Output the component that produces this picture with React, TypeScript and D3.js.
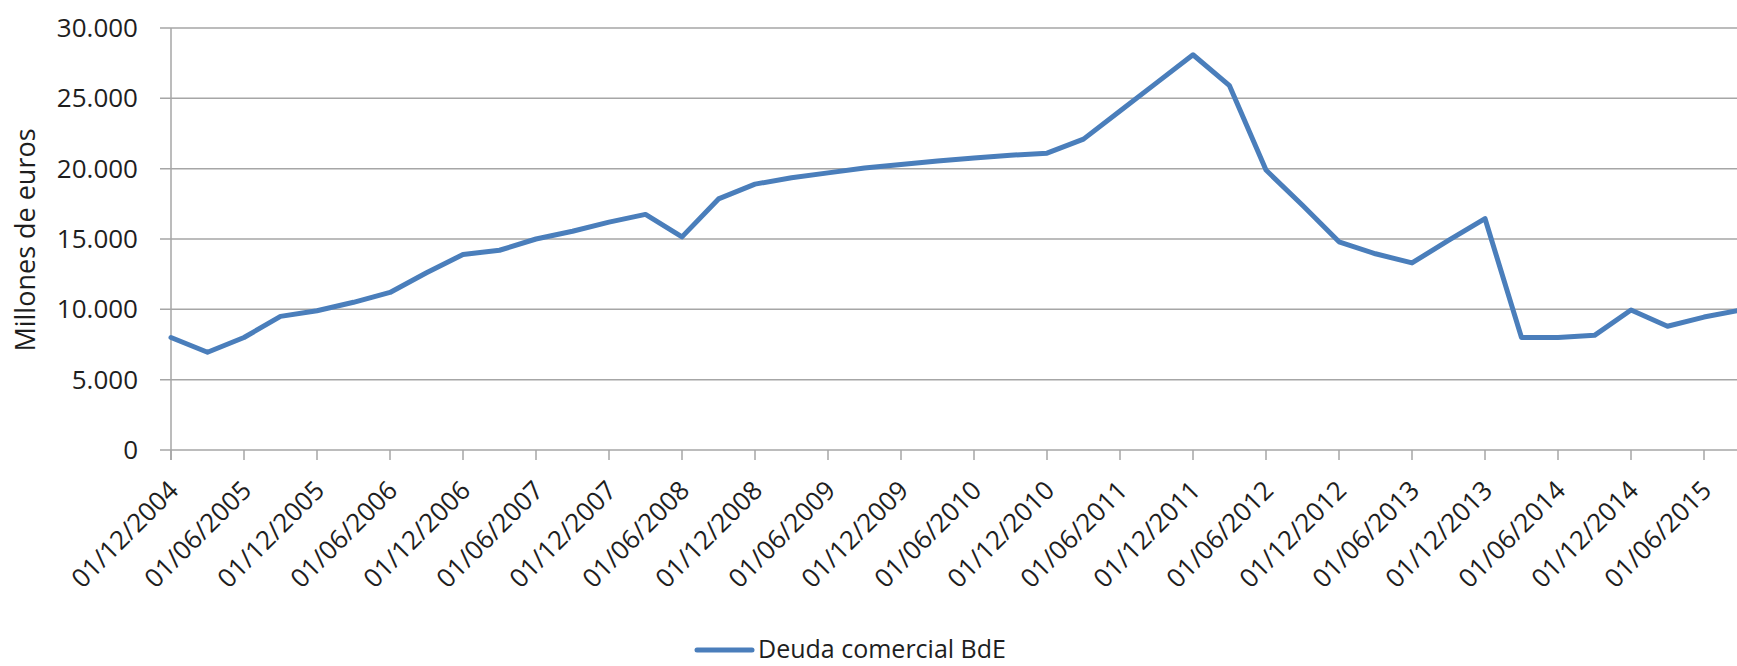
import React, { useEffect, useRef } from 'react';
import * as d3 from 'd3';

const fechas: string[] = [
  '01/12/2004', '01/03/2005', '01/06/2005', '01/09/2005',
  '01/12/2005', '01/03/2006', '01/06/2006', '01/09/2006',
  '01/12/2006', '01/03/2007', '01/06/2007', '01/09/2007',
  '01/12/2007', '01/03/2008', '01/06/2008', '01/09/2008',
  '01/12/2008', '01/03/2009', '01/06/2009', '01/09/2009',
  '01/12/2009', '01/03/2010', '01/06/2010', '01/09/2010',
  '01/12/2010', '01/03/2011', '01/06/2011', '01/09/2011',
  '01/12/2011', '01/03/2012', '01/06/2012', '01/09/2012',
  '01/12/2012', '01/03/2013', '01/06/2013', '01/09/2013',
  '01/12/2013', '01/03/2014', '01/06/2014', '01/09/2014',
  '01/12/2014', '01/03/2015', '01/06/2015', '01/09/2015',
];

const deudaComercial: number[] = [
  8000, 6950, 8000, 9500,
  9900, 10500, 11200, 12600,
  13900, 14200, 15000, 15550,
  16200, 16750, 15150, 17850,
  18900, 19350, 19700, 20050,
  20300, 20550, 20750, 20950,
  21100, 22100, 24100, 26100,
  28100, 25900, 19900, 17400,
  14800, 13950, 13300, 14900,
  16450, 8000, 8000, 8150,
  9950, 8800, 9450, 9950,
];

const yTicks: number[] = [0, 5000, 10000, 15000, 20000, 25000, 30000];
const serieNombre = 'Deuda comercial BdE';
const yTitulo = 'Millones de euros';

const WIDTH = 1737;
const HEIGHT = 666;
const LINE_COLOR = '#4a7ebb';
const GRID_COLOR = '#a6a6a6';
const TEXT_COLOR = '#1e1e1e';
const FONT = '"Open Sans", Lato, sans-serif';

const App: React.FC = () => {
  const svgRef = useRef<SVGSVGElement>(null);

  useEffect(() => {
    const svg = d3.select(svgRef.current);
    svg.selectAll('*').remove();

    const plot = { left: 171, top: 28, bottom: 450 };
    const step = 36.5;

    const x = d3.scalePoint<string>()
      .domain(fechas)
      .range([plot.left, plot.left + step * (fechas.length - 1)]);

    const y = d3.scaleLinear()
      .domain([0, 30000])
      .range([plot.bottom, plot.top]);

    // Horizontal grid lines
    svg.append('g')
      .selectAll('line')
      .data(yTicks)
      .enter()
      .append('line')
      .attr('x1', plot.left - 11)
      .attr('x2', WIDTH)
      .attr('y1', d => y(d))
      .attr('y2', d => y(d))
      .attr('stroke', GRID_COLOR)
      .attr('stroke-width', 1.5);

    // Y axis line
    svg.append('line')
      .attr('x1', plot.left)
      .attr('x2', plot.left)
      .attr('y1', y(30000))
      .attr('y2', plot.bottom + 10)
      .attr('stroke', GRID_COLOR)
      .attr('stroke-width', 1.5);

    // Y tick labels
    const fmt = (v: number) => (v === 0 ? '0' : d3.format(',')(v).replace(/,/g, '.'));
    svg.append('g')
      .selectAll('text')
      .data(yTicks)
      .enter()
      .append('text')
      .attr('x', 138)
      .attr('y', d => y(d))
      .attr('dy', '0.35em')
      .attr('text-anchor', 'end')
      .attr('font-family', FONT)
      .attr('font-size', 26)
      .attr('fill', TEXT_COLOR)
      .text(d => fmt(d));

    // Y axis title
    svg.append('text')
      .attr('transform', `translate(35,240) rotate(-90)`)
      .attr('text-anchor', 'middle')
      .attr('font-family', FONT)
      .attr('font-size', 27)
      .attr('fill', TEXT_COLOR)
      .text(yTitulo);

    // X tick marks + labels every two quarters
    const labelled = fechas.filter((_, i) => i % 2 === 0);
    svg.append('g')
      .selectAll('line')
      .data(labelled)
      .enter()
      .append('line')
      .attr('x1', d => x(d) || 0)
      .attr('x2', d => x(d) || 0)
      .attr('y1', plot.bottom)
      .attr('y2', plot.bottom + 10)
      .attr('stroke', GRID_COLOR)
      .attr('stroke-width', 1.5);

    svg.append('g')
      .selectAll('text')
      .data(labelled)
      .enter()
      .append('text')
      .attr('transform', d => `translate(${(x(d) || 0) + 9},${plot.bottom + 42}) rotate(-45)`)
      .attr('text-anchor', 'end')
      .attr('font-family', FONT)
      .attr('font-size', 26)
      .attr('fill', TEXT_COLOR)
      .text(d => d);

    // Series line
    const line = d3.line<number>()
      .x((_, i) => x(fechas[i]) || 0)
      .y(d => y(d));

    svg.append('path')
      .datum(deudaComercial)
      .attr('d', line)
      .attr('fill', 'none')
      .attr('stroke', LINE_COLOR)
      .attr('stroke-width', 5)
      .attr('stroke-linejoin', 'round')
      .attr('stroke-linecap', 'round');

    // Legend
    svg.append('line')
      .attr('x1', 697)
      .attr('x2', 752)
      .attr('y1', 650)
      .attr('y2', 650)
      .attr('stroke', LINE_COLOR)
      .attr('stroke-width', 5)
      .attr('stroke-linecap', 'round');

    svg.append('text')
      .attr('x', 758)
      .attr('y', 658)
      .attr('font-family', FONT)
      .attr('font-size', 25)
      .attr('fill', TEXT_COLOR)
      .text(serieNombre);
  }, []);

  return (
    <div style={{ position: 'absolute', left: 0, top: 0, background: '#fff' }}>
      <svg ref={svgRef} width={WIDTH} height={HEIGHT} style={{ display: 'block' }}></svg>
    </div>
  );
};

export default App;
